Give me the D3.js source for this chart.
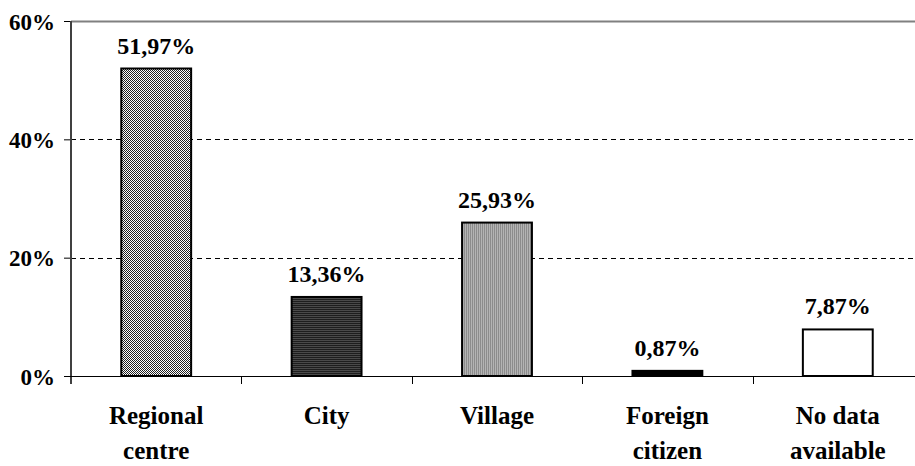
<!DOCTYPE html>
<html lang="en">
<head>
    <meta charset="UTF-8">
    <title>Place of residence</title>
    <script src="https://d3js.org/d3.v7.min.js"></script>
    <style>
        body { margin: 0; background: #fff; }
    </style>
</head>
<body>
    <div id="chart"></div>
    <script>
        // data
        var categories = ["Regional centre", "City", "Village", "Foreign citizen", "No data available"];
        var categoryLines = [["Regional", "centre"], ["City"], ["Village"], ["Foreign", "citizen"], ["No data", "available"]];
        var shares = [51.97, 13.36, 25.93, 0.87, 7.87];
        var yTicks = [0, 20, 40, 60];
        var fills = ["url(#checker)", "url(#hlines)", "url(#vlines)", "#000", "#fff"];

        var width = 915,
            height = 466;
        var font = "Liberation Serif";

        var svg = d3.select("#chart").append("svg")
            .attr("width", width)
            .attr("height", height);

        var defs = svg.append("defs");

        var checker = defs.append("pattern").attr("id", "checker")
            .attr("patternUnits", "userSpaceOnUse").attr("width", 2).attr("height", 2);
        checker.append("rect").attr("width", 2).attr("height", 2).attr("fill", "#fff");
        checker.append("rect").attr("width", 1).attr("height", 1).attr("fill", "#222");
        checker.append("rect").attr("x", 1).attr("y", 1).attr("width", 1).attr("height", 1).attr("fill", "#222");

        var hlines = defs.append("pattern").attr("id", "hlines")
            .attr("patternUnits", "userSpaceOnUse").attr("width", 2).attr("height", 2);
        hlines.append("rect").attr("width", 2).attr("height", 2).attr("fill", "#1e1e1e");
        hlines.append("rect").attr("width", 2).attr("height", 1).attr("fill", "#4a4a4a");

        var vlines = defs.append("pattern").attr("id", "vlines")
            .attr("patternUnits", "userSpaceOnUse").attr("width", 2).attr("height", 2);
        vlines.append("rect").attr("width", 2).attr("height", 2).attr("fill", "#b4b4b4");
        vlines.append("rect").attr("width", 1).attr("height", 2).attr("fill", "#8c8c8c");

        var x = d3.scaleBand()
            .domain(categories)
            .range([71, 923])
            .paddingInner(0.59)
            .paddingOuter(0.295);

        var y = d3.scaleLinear()
            .domain([0, 60])
            .range([376, 21]);

        // gridlines
        svg.append("g").selectAll("line")
            .data(yTicks.filter(function (t) { return t > 0; }))
            .enter().append("line")
            .attr("x1", 71).attr("x2", 923)
            .attr("y1", function (d) { return Math.round(y(d)) + 0.5; })
            .attr("y2", function (d) { return Math.round(y(d)) + 0.5; })
            .attr("stroke", function (d) { return d == 60 ? "#808080" : "#000"; })
            .attr("stroke-width", function (d) { return d == 60 ? 2 : 1; })
            .attr("stroke-dasharray", function (d) { return d == 60 ? null : "5,4"; });

        // bars
        svg.append("g").selectAll("rect")
            .data(shares)
            .enter().append("rect")
            .attr("x", function (d, i) { return x(categories[i]); })
            .attr("y", function (d) { return y(d); })
            .attr("width", x.bandwidth())
            .attr("height", function (d) { return y(0) - y(d); })
            .attr("fill", function (d, i) { return fills[i]; })
            .attr("stroke", "#000")
            .attr("stroke-width", 2);

        // value labels
        svg.append("g").selectAll("text")
            .data(shares)
            .enter().append("text")
            .attr("x", function (d, i) { return x(categories[i]) + x.bandwidth() / 2; })
            .attr("y", function (d) { return y(d) - 15; })
            .attr("text-anchor", "middle")
            .attr("font-family", font)
            .attr("font-weight", "bold")
            .attr("font-size", 24)
            .text(function (d) { return d.toFixed(2).replace(".", ",") + "%"; });

        // y axis
        var yAxis = svg.append("g")
            .attr("transform", "translate(71,0)")
            .call(d3.axisLeft(y).tickValues(yTicks).tickSize(7).tickPadding(9)
                .tickFormat(function (d) { return d + "%"; }));
        yAxis.select(".domain").remove();
        yAxis.selectAll(".tick line").attr("stroke", "#000");
        yAxis.selectAll("text")
            .attr("font-family", font)
            .attr("font-weight", "bold")
            .attr("font-size", 23)
            .attr("fill", "#000")
            .attr("dy", "0.35em");
        yAxis.append("line")
            .attr("x1", 0).attr("x2", 0)
            .attr("y1", y(60)).attr("y2", 384)
            .attr("stroke", "#404040").attr("stroke-width", 2);

        // x axis
        var xAxis = svg.append("g")
            .attr("transform", "translate(0,376)");
        xAxis.append("line")
            .attr("x1", 64).attr("x2", 923)
            .attr("y1", 0.5).attr("y2", 0.5)
            .attr("stroke", "#000");
        var step = x.step();
        xAxis.selectAll(".sep")
            .data(categories.slice(1))
            .enter().append("line")
            .attr("class", "sep")
            .attr("x1", function (d) { return Math.round(x(d) - (step - x.bandwidth()) / 2) + 0.5; })
            .attr("x2", function (d) { return Math.round(x(d) - (step - x.bandwidth()) / 2) + 0.5; })
            .attr("y1", 0).attr("y2", 8)
            .attr("stroke", "#000");

        var catLabels = xAxis.selectAll(".cat")
            .data(categories)
            .enter().append("text")
            .attr("class", "cat")
            .attr("text-anchor", "middle")
            .attr("font-family", font)
            .attr("font-weight", "bold")
            .attr("font-size", 25)
            .attr("x", function (d) { return x(d) + x.bandwidth() / 2; });
        catLabels.selectAll("tspan")
            .data(function (d, i) { return categoryLines[i]; })
            .enter().append("tspan")
            .attr("x", function () { return d3.select(this.parentNode).attr("x"); })
            .attr("y", function (d, i) { return 48 + i * 35; })
            .text(function (d) { return d; });
    </script>
</body>
</html>
